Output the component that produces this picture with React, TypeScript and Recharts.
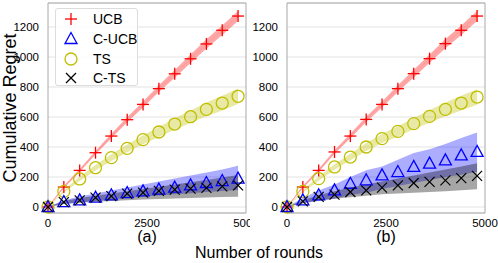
import React from "react";
import {
  ComposedChart,
  Area,
  Line,
  XAxis,
  YAxis,
  CartesianGrid,
  ReferenceArea,
} from "recharts";

const rounds = [0, 400, 800, 1200, 1600, 2000, 2400, 2800, 3200, 3600, 4000, 4400, 4800];

// panel (a)
const ucbA = [0, 133, 244, 362, 473, 582, 684, 789, 888, 988, 1087, 1178, 1273];
const ucbLowA = [0, 125, 234, 350, 458, 565, 664, 766, 862, 960, 1056, 1146, 1240];
const ucbHighA = [0, 141, 254, 374, 488, 599, 704, 812, 914, 1016, 1118, 1210, 1306];
const tsA = [0, 104, 187, 262, 329, 391, 449, 500, 553, 602, 651, 693, 738];
const tsLowA = [0, 95, 173, 244, 307, 365, 419, 466, 515, 560, 605, 644, 686];
const tsHighA = [0, 113, 201, 280, 351, 417, 479, 534, 591, 644, 697, 742, 790];
const cucbA = [0, 33, 44, 62, 78, 93, 104, 116, 129, 144, 160, 173, 189];
const cucbLowA = [0, 20, 30, 40, 50, 60, 70, 77, 85, 92, 100, 107, 113];
const cucbHighA = [0, 45, 70, 90, 110, 130, 150, 170, 190, 210, 230, 250, 275];
const ctsA = [0, 33, 44, 62, 73, 89, 96, 107, 116, 122, 127, 138, 144];
const ctsLowA = [0, 20, 28, 35, 40, 45, 50, 53, 56, 60, 63, 66, 69];
const ctsHighA = [0, 40, 60, 75, 90, 105, 120, 135, 150, 165, 180, 197, 213];

// panel (b)
const ucbB = [0, 133, 244, 367, 473, 584, 684, 789, 889, 989, 1089, 1178, 1273];
const ucbLowB = [0, 125, 234, 355, 458, 567, 664, 766, 863, 961, 1058, 1146, 1240];
const ucbHighB = [0, 141, 254, 379, 488, 601, 704, 812, 915, 1017, 1120, 1210, 1306];
const tsB = [0, 104, 189, 267, 333, 400, 456, 504, 556, 604, 651, 693, 733];
const tsLowB = [0, 95, 175, 249, 311, 374, 426, 470, 518, 562, 605, 644, 681];
const tsHighB = [0, 113, 203, 285, 355, 426, 486, 538, 594, 646, 697, 742, 785];
const cucbB = [0, 44, 78, 111, 155, 178, 211, 233, 267, 289, 311, 344, 367];
const cucbLowB = [0, 25, 40, 55, 80, 95, 120, 140, 160, 180, 200, 215, 235];
const cucbHighB = [0, 60, 110, 150, 200, 245, 270, 315, 360, 385, 420, 460, 496];
const ctsB = [0, 38, 67, 82, 100, 111, 129, 144, 160, 167, 178, 193, 207];
const ctsLowB = [0, 25, 45, 55, 65, 75, 85, 90, 95, 100, 105, 112, 118];
const ctsHighB = [0, 45, 80, 105, 130, 150, 170, 190, 210, 230, 250, 270, 291];

const yTicks = [0, 200, 400, 600, 800, 1000, 1200];
const xTicks = [0, 2500, 5000];
const legendNames = ["UCB", "C-UCB", "TS", "C-TS"];

const FONT = "'Liberation Sans', Arial, sans-serif";
const RED = "#ff0000";
const BLUE = "#0000ff";
const OLIVE = "#bfbf00";

const Plus = ({ cx, cy }: any) => (
  <g stroke={RED} strokeWidth={1.3}>
    <line x1={cx - 6} y1={cy} x2={cx + 6} y2={cy} />
    <line x1={cx} y1={cy - 6} x2={cx} y2={cy + 6} />
  </g>
);

const Tri = ({ cx, cy }: any) => (
  <path
    d={`M${cx},${cy - 6.5} L${cx - 6},${cy + 4.5} L${cx + 6},${cy + 4.5} Z`}
    fill="none"
    stroke={BLUE}
    strokeWidth={1.3}
  />
);

const Circ = ({ cx, cy }: any) => (
  <circle cx={cx} cy={cy} r={6} fill="none" stroke={OLIVE} strokeWidth={1.3} />
);

const Cross = ({ cx, cy }: any) => (
  <g stroke="#000" strokeWidth={1.2}>
    <line x1={cx - 5} y1={cy - 5} x2={cx + 5} y2={cy + 5} />
    <line x1={cx - 5} y1={cy + 5} x2={cx + 5} y2={cy - 5} />
  </g>
);

const markers = [Plus, Tri, Circ, Cross];

function buildRows(
  ucb: number[], ucbLo: number[], ucbHi: number[],
  ts: number[], tsLo: number[], tsHi: number[],
  cucb: number[], cucbLo: number[], cucbHi: number[],
  cts: number[], ctsLo: number[], ctsHi: number[]
) {
  return rounds.map((r, i) => ({
    round: r,
    ucb: ucb[i],
    ucbBand: [ucbLo[i], ucbHi[i]],
    ts: ts[i],
    tsBand: [tsLo[i], tsHi[i]],
    cucb: cucb[i],
    cucbBand: [cucbLo[i], cucbHi[i]],
    cts: cts[i],
    ctsBand: [ctsLo[i], ctsHi[i]],
  }));
}

const rowsA = buildRows(ucbA, ucbLowA, ucbHighA, tsA, tsLowA, tsHighA, cucbA, cucbLowA, cucbHighA, ctsA, ctsLowA, ctsHighA);
const rowsB = buildRows(ucbB, ucbLowB, ucbHighB, tsB, tsLowB, tsHighB, cucbB, cucbLowB, cucbHighB, ctsB, ctsLowB, ctsHighB);

const dotOf = (Mark: any, name: string) => (p: any) => (
  <Mark key={`${name}-${p.index}`} cx={p.cx} cy={p.cy} />
);

const Panel = ({ data, label, margin, yWidth }: any) => (
  <ComposedChart width={250} height={263} data={data} margin={margin}>
    <CartesianGrid vertical={false} stroke="#e3e3e3" />
    <XAxis
      dataKey="round"
      type="number"
      domain={[0, 5000]}
      ticks={xTicks}
      tickLine={false}
      axisLine={false}
      tickMargin={0}
      height={18}
      tick={{ fontSize: 11.5, fill: "#000", fontFamily: FONT }}
      interval={0}
      label={{
        value: label,
        position: "bottom",
        offset: 0,
        style: { fontSize: 16, fill: "#000", fontFamily: FONT },
      }}
    />
    <YAxis
      type="number"
      domain={[-40, 1360]}
      ticks={yTicks}
      tickLine={false}
      axisLine={false}
      tickMargin={3}
      width={yWidth}
      interval={0}
      tick={{ fontSize: 11.5, fill: "#000", fontFamily: FONT }}
    />
    <Area dataKey="ucbBand" type="linear" stroke="none" fill={RED} fillOpacity={0.35} isAnimationActive={false} />
    <Area dataKey="tsBand" type="linear" stroke="none" fill={OLIVE} fillOpacity={0.35} isAnimationActive={false} />
    <Area dataKey="cucbBand" type="linear" stroke="none" fill={BLUE} fillOpacity={0.32} isAnimationActive={false} />
    <Area dataKey="ctsBand" type="linear" stroke="none" fill="#000" fillOpacity={0.35} isAnimationActive={false} />
    <Line dataKey="ucb" type="linear" stroke="#ff9a9a" strokeWidth={1} dot={dotOf(Plus, "ucb")} isAnimationActive={false} />
    <Line dataKey="ts" type="linear" stroke="none" dot={dotOf(Circ, "ts")} isAnimationActive={false} />
    <Line dataKey="cucb" type="linear" stroke="none" dot={dotOf(Tri, "cucb")} isAnimationActive={false} />
    <Line dataKey="cts" type="linear" stroke="none" dot={dotOf(Cross, "cts")} isAnimationActive={false} />
    <ReferenceArea x1={0} x2={5000} y1={-40} y2={1360} fill="none" stroke="#a8a8a8" strokeWidth={1} ifOverflow="visible" />
  </ComposedChart>
);

export default function App() {
  return (
    <div style={{ position: "absolute", left: 0, top: 0, width: 498, height: 263, background: "#fff", fontFamily: FONT }}>
      <div style={{ position: "absolute", left: 0, top: 0 }}>
        <Panel data={rowsA} label="(a)" margin={{ top: 3, right: 4, bottom: 32, left: 8 }} yWidth={40} />
      </div>
      <div style={{ position: "absolute", left: 248, top: 0 }}>
        <Panel data={rowsB} label="(b)" margin={{ top: 3, right: 13, bottom: 32, left: 0 }} yWidth={39} />
      </div>
      <div
        style={{
          position: "absolute",
          left: 10,
          top: 108,
          transform: "translate(-50%, -50%) rotate(-90deg)",
          whiteSpace: "nowrap",
          fontSize: 18,
          color: "#000",
        }}
      >
        Cumulative Regret
      </div>
      <div
        style={{
          position: "absolute",
          left: 259,
          top: 253,
          transform: "translate(-50%, -50%)",
          whiteSpace: "nowrap",
          fontSize: 16,
          color: "#000",
        }}
      >
        Number of rounds
      </div>
      <div
        style={{
          position: "absolute",
          left: 55,
          top: 8,
          width: 81,
          height: 76,
          background: "rgba(255,255,255,0.85)",
          border: "1px solid #dcdcdc",
          borderRadius: 3,
        }}
      >
        {legendNames.map((name, i) => {
          const Mark = markers[i];
          return (
            <div key={name} style={{ position: "absolute", left: 0, top: 1 + i * 19.8, height: 18, width: 81 }}>
              <svg width={30} height={18} style={{ position: "absolute", left: 0, top: 0 }}>
                <Mark cx={15} cy={9} />
              </svg>
              <span
                style={{
                  position: "absolute",
                  left: 37,
                  top: 0,
                  lineHeight: "18px",
                  fontSize: 14,
                  whiteSpace: "nowrap",
                }}
              >
                {name}
              </span>
            </div>
          );
        })}
      </div>
    </div>
  );
}
